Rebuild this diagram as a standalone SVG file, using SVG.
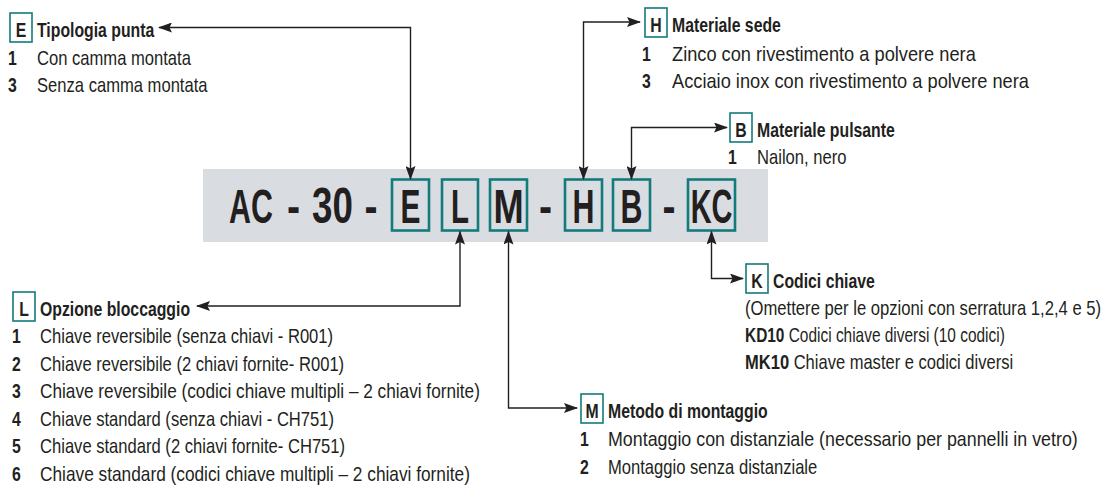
<svg xmlns="http://www.w3.org/2000/svg" width="1104" height="486" viewBox="0 0 1104 486">
<defs>
<style>
text{font-family:"Liberation Sans",Arial,sans-serif;fill:#231f20;font-size:20px}
.b{font-weight:bold}
.big{font-size:49px;font-weight:bold;text-anchor:middle}
.tb{fill:none;stroke:#137b7b;stroke-width:1.6}
.bb{fill:#d9dde2;stroke:#137b7b;stroke-width:2.6}
.c{fill:none;stroke:#231f20;stroke-width:1.4;marker-start:url(#ah);marker-end:url(#ah)}
.m{text-anchor:middle}
</style>
<marker id="ah" markerUnits="userSpaceOnUse" markerWidth="14" markerHeight="10" refX="13" refY="5" orient="auto-start-reverse" viewBox="0 0 14 10">
<path d="M0,0 L14,5 L0,10 L2.5,5 z" fill="#231f20"/>
</marker>
</defs>
<rect x="0" y="0" width="1104" height="486" fill="#ffffff"/>

<g id="code">
<rect x="203" y="169" width="565" height="73" fill="#d9dde2"/>
<text class="big" transform="matrix(.62 0 0 1 251 223)">AC</text>
<text class="big" transform="matrix(.8 0 0 1 293.5 223)">-</text>
<text class="big" transform="matrix(.75 0 0 1 332.5 223)">30</text>
<text class="big" transform="matrix(.8 0 0 1 371 223)">-</text>
<rect class="bb" x="392" y="179.5" width="37" height="51"/>
<text class="big" transform="matrix(.61 0 0 1 410.5 223)">E</text>
<rect class="bb" x="442" y="179.5" width="36" height="51"/>
<text class="big" transform="matrix(.6 0 0 1 460 223)">L</text>
<rect class="bb" x="490" y="179.5" width="37" height="51"/>
<text class="big" transform="matrix(.74 0 0 1 508.5 223)">M</text>
<text class="big" transform="matrix(.8 0 0 1 545.5 223)">-</text>
<rect class="bb" x="565" y="179.5" width="37" height="51"/>
<text class="big" transform="matrix(.62 0 0 1 583.5 223)">H</text>
<rect class="bb" x="613" y="179.5" width="37" height="51"/>
<text class="big" transform="matrix(.62 0 0 1 631.5 223)">B</text>
<text class="big" transform="matrix(.8 0 0 1 669 223)">-</text>
<rect class="bb" x="688" y="179.5" width="47" height="51"/>
<text class="big" transform="matrix(.59 0 0 1 711.5 223)">KC</text>
</g>

<g id="connectors">
<path class="c" d="M159,27.5 H410.5 V179"/>
<path class="c" d="M640,22 H583.5 V179"/>
<path class="c" d="M727,127.5 H631.5 V179"/>
<path class="c" d="M197,306 H460 V231.5"/>
<path class="c" d="M577,408 H508.5 V231.5"/>
<path class="c" d="M743,278.5 H711.5 V231.5"/>
</g>

<g id="E">
<rect class="tb" x="10" y="13" width="22" height="29"/>
<text class="b m" transform="matrix(.79 0 0 1 21 37)">E</text>
<text class="b" transform="matrix(.79 0 0 1 37 37)">Tipologia punta</text>
<text class="b" transform="matrix(.79 0 0 1 8 65)">1</text><text transform="matrix(.83 0 0 1 37 65)">Con camma montata</text>
<text class="b" transform="matrix(.79 0 0 1 8 92)">3</text><text transform="matrix(.83 0 0 1 37 92)">Senza camma montata</text>
</g>

<g id="H">
<rect class="tb" x="645" y="8" width="22" height="29"/>
<text class="b m" transform="matrix(.79 0 0 1 656 32)">H</text>
<text class="b" transform="matrix(.79 0 0 1 672 32)">Materiale sede</text>
<text class="b" transform="matrix(.79 0 0 1 642 61)">1</text><text transform="matrix(.83 0 0 1 672 61)" textLength="366" lengthAdjust="spacingAndGlyphs">Zinco con rivestimento a polvere nera</text>
<text class="b" transform="matrix(.79 0 0 1 642 88)">3</text><text transform="matrix(.83 0 0 1 672 88)" textLength="430" lengthAdjust="spacingAndGlyphs">Acciaio inox con rivestimento a polvere nera</text>
</g>

<g id="B">
<rect class="tb" x="730" y="113" width="22" height="29"/>
<text class="b m" transform="matrix(.79 0 0 1 741 137)">B</text>
<text class="b" transform="matrix(.79 0 0 1 757 137)">Materiale pulsante</text>
<text class="b" transform="matrix(.79 0 0 1 728 164)">1</text><text transform="matrix(.83 0 0 1 757 164)">Nailon, nero</text>
</g>

<g id="K">
<rect class="tb" x="746" y="264" width="22" height="29"/>
<text class="b m" transform="matrix(.79 0 0 1 757 288)">K</text>
<text class="b" transform="matrix(.79 0 0 1 773 288)">Codici chiave</text>
<text transform="matrix(.83 0 0 1 745 315)" textLength="429" lengthAdjust="spacingAndGlyphs">(Omettere per le opzioni con serratura 1,2,4 e 5)</text>
<text transform="matrix(.83 0 0 1 745 342)" textLength="313" lengthAdjust="spacingAndGlyphs"><tspan class="b">KD10</tspan> Codici chiave diversi (10 codici)</text>
<text transform="matrix(.83 0 0 1 745 369)" textLength="323" lengthAdjust="spacingAndGlyphs"><tspan class="b">MK10</tspan> Chiave master e codici diversi</text>
</g>

<g id="L">
<rect class="tb" x="13" y="292" width="22" height="29"/>
<text class="b m" transform="matrix(.79 0 0 1 24 316)">L</text>
<text class="b" transform="matrix(.79 0 0 1 40 316)">Opzione bloccaggio</text>
<text class="b" transform="matrix(.79 0 0 1 12 343)">1</text><text transform="matrix(.83 0 0 1 40 343)">Chiave reversibile (senza chiavi - R001)</text>
<text class="b" transform="matrix(.79 0 0 1 12 370.5)">2</text><text transform="matrix(.83 0 0 1 40 370.5)">Chiave reversibile (2 chiavi fornite- R001)</text>
<text class="b" transform="matrix(.79 0 0 1 12 398)">3</text><text transform="matrix(.83 0 0 1 40 398)" textLength="530" lengthAdjust="spacingAndGlyphs">Chiave reversibile (codici chiave multipli – 2 chiavi fornite)</text>
<text class="b" transform="matrix(.79 0 0 1 12 425.5)">4</text><text transform="matrix(.83 0 0 1 40 425.5)">Chiave standard (senza chiavi - CH751)</text>
<text class="b" transform="matrix(.79 0 0 1 12 453)">5</text><text transform="matrix(.83 0 0 1 40 453)">Chiave standard (2 chiavi fornite- CH751)</text>
<text class="b" transform="matrix(.79 0 0 1 12 480.5)">6</text><text transform="matrix(.83 0 0 1 40 480.5)" textLength="518" lengthAdjust="spacingAndGlyphs">Chiave standard (codici chiave multipli – 2 chiavi fornite)</text>
</g>

<g id="M">
<rect class="tb" x="581" y="394" width="22" height="29"/>
<text class="b m" transform="matrix(.79 0 0 1 592 418)">M</text>
<text class="b" transform="matrix(.79 0 0 1 608 418)">Metodo di montaggio</text>
<text class="b" transform="matrix(.79 0 0 1 580 446)">1</text><text transform="matrix(.83 0 0 1 608 446)" textLength="566" lengthAdjust="spacingAndGlyphs">Montaggio con distanziale (necessario per pannelli in vetro)</text>
<text class="b" transform="matrix(.79 0 0 1 580 474)">2</text><text transform="matrix(.83 0 0 1 608 474)">Montaggio senza distanziale</text>
</g>
</svg>
